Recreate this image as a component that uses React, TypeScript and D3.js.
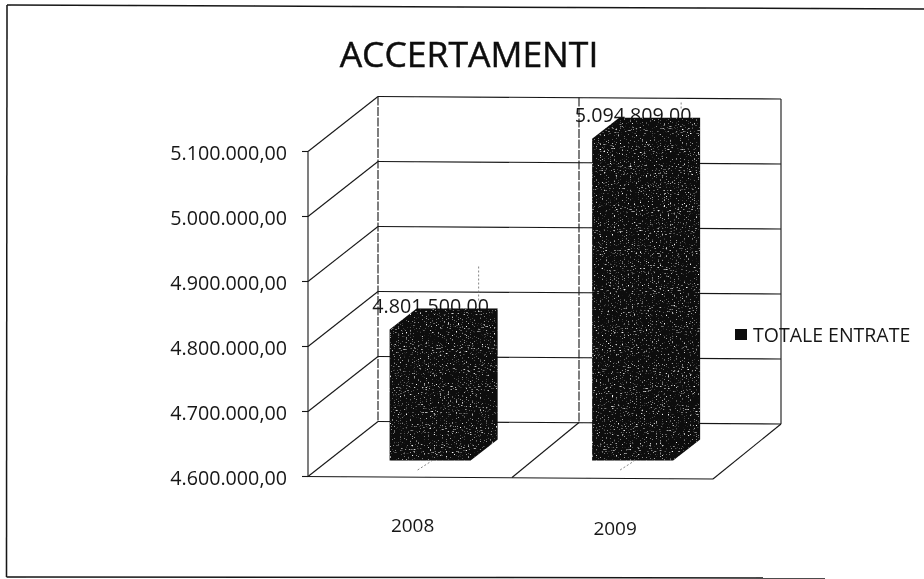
import React from "react";
import * as d3 from "d3";

const categories = ["2008", "2009"];
const values = [4801500, 5094809];
const valueLabels = ["4.801.500,00", "5.094.809,00"];
const ticks = [4600000, 4700000, 4800000, 4900000, 5000000, 5100000];
const tickLabels = ["4.600.000,00", "4.700.000,00", "4.800.000,00", "4.900.000,00", "5.000.000,00", "5.100.000,00"];
const seriesName = "TOTALE ENTRATE";
const title = "ACCERTAMENTI";

const W = 924, H = 579;
const font = "'Open Sans', 'Noto Sans', sans-serif";
const ink = "#161616";

export default function App() {
  const y = d3.scaleLinear().domain([4600000, 5100000]).range([476.5, 151.5]);
  const x = d3.scaleBand().domain(categories).range([308, 713]).paddingInner(0.5).paddingOuter(0.25);
  const wallDx = 70, wallDy = -55;
  const wallW = 403, tilt = 2.5;
  const barDx = 27, barDy = -21, barShiftY = -16;
  const barW = 81;
  const barLeft = (c: string) => x(c)! + 31;
  const base = y(4600000);
  const top = y(5100000);
  return (
    <svg width={W} height={H} style={{ position: "absolute", left: 0, top: 0, background: "#fff" }}>
      <defs>
        <filter id="speck" x="0" y="0" width="100%" height="100%" colorInterpolationFilters="sRGB">
          <feTurbulence type="fractalNoise" baseFrequency="0.5 0.95" numOctaves="2" seed="4" result="n" />
          <feColorMatrix in="n" type="matrix" values="0 0 0 0 1  0 0 0 0 1  0 0 0 0 1  4.5 0 0 0 -2.75" result="w" />
          <feComposite in="w" in2="SourceAlpha" operator="in" result="wc" />
          <feMerge><feMergeNode in="SourceGraphic" /><feMergeNode in="wc" /></feMerge>
        </filter>
        <filter id="soft"><feGaussianBlur stdDeviation="0.4" /></filter>
      </defs>
      <g filter="url(#soft)">
        {/* scanned frame: right side falls outside the picture */}
        <g fill="none" stroke={ink} strokeWidth={1.5}>
          <line x1={7} x2={924} y1={5} y2={9} />
          <line x1={7} x2={6.5} y1={5} y2={577} />
          <line x1={6.5} x2={825} y1={577} y2={578} />
        </g>
        <text x={469} y={67} textAnchor="middle" fontFamily={font} fontSize={35.5} fill="#111" stroke="#111" strokeWidth={0.5}>{title}</text>

        {/* walls, floor and gridlines */}
        <g fill="none" stroke={ink} strokeWidth={1.1}>
          <line x1={308} x2={308} y1={top} y2={base} />
          <line x1={378} x2={378} y1={top + wallDy} y2={base + wallDy} strokeDasharray="9 1.5" />
          <line x1={579} x2={579} y1={top + wallDy + 1} y2={base + wallDy + 1} strokeDasharray="9 1.5" />
          <line x1={781} x2={781} y1={top + wallDy + tilt} y2={base + wallDy + tilt} />
          {ticks.map((t) => (
            <g key={t}>
              <line x1={302} x2={308} y1={y(t)} y2={y(t)} />
              <line x1={308} x2={308 + wallDx} y1={y(t)} y2={y(t) + wallDy} />
              <line x1={308 + wallDx} x2={308 + wallDx + wallW} y1={y(t) + wallDy} y2={y(t) + wallDy + tilt} />
            </g>
          ))}
          <line x1={302} x2={713} y1={base} y2={base + tilt} />
          <line x1={713} x2={781} y1={base + tilt} y2={base + wallDy + tilt} />
          <line x1={512} x2={579} y1={base + 1} y2={base + wallDy + 1} />
        </g>
        {/* faint dashed remnants around the bars */}
        <g fill="none" stroke="#777" strokeWidth={0.9} strokeDasharray="2 2">
          {categories.map((c, i) => {
            const l = barLeft(c);
            const tipY = y(values[i]) + barShiftY + barDy;
            return (
              <g key={c}>
                <line x1={l + 28} x2={l + 42} y1={470} y2={461} />
                <line x1={l + 89} x2={l + 89} y1={Math.max(tipY - 42, top + wallDy + 6)} y2={tipY - 8} />
              </g>
            );
          })}
        </g>
        {ticks.map((t, i) => (
          <text key={t} x={287} y={y(t) + 8.5} textAnchor="end" fontFamily={font} fontSize={19.7} fill={ink}>{tickLabels[i]}</text>
        ))}

        {/* value labels sit under the bars, which clip their lower edge */}
        {categories.map((c, i) => {
          const l = barLeft(c);
          const t = y(values[i]) + barShiftY;
          return (
            <text key={c} x={l + 41} y={t + barDy + 4} textAnchor="middle" fontFamily={font} fontSize={19.7} fill={ink}>{valueLabels[i]}</text>
          );
        })}

        {/* bars */}
        {categories.map((c, i) => {
          const l = barLeft(c);
          const b = base + barShiftY;
          const t = y(values[i]) + barShiftY;
          const shape = `M${l},${b}L${l},${t}L${l + barDx},${t + barDy}L${l + barW + barDx},${t + barDy}L${l + barW + barDx},${b + barDy}L${l + barW},${b}Z`;
          return <path key={c} d={shape} fill="#0a0a0a" filter="url(#speck)" />;
        })}

        {categories.map((c) => (
          <text key={c} x={barLeft(c) + 23} y={c === "2008" ? 532 : 535} textAnchor="middle" fontFamily={font} fontSize={19} fill={ink}>{c}</text>
        ))}

        {/* legend */}
        <rect x={735} y={329} width={12} height={11} fill="#111" />
        <text x={753} y={341.5} fontFamily={font} fontSize={19.5} fill={ink}>{seriesName}</text>
      </g>
    </svg>
  );
}
